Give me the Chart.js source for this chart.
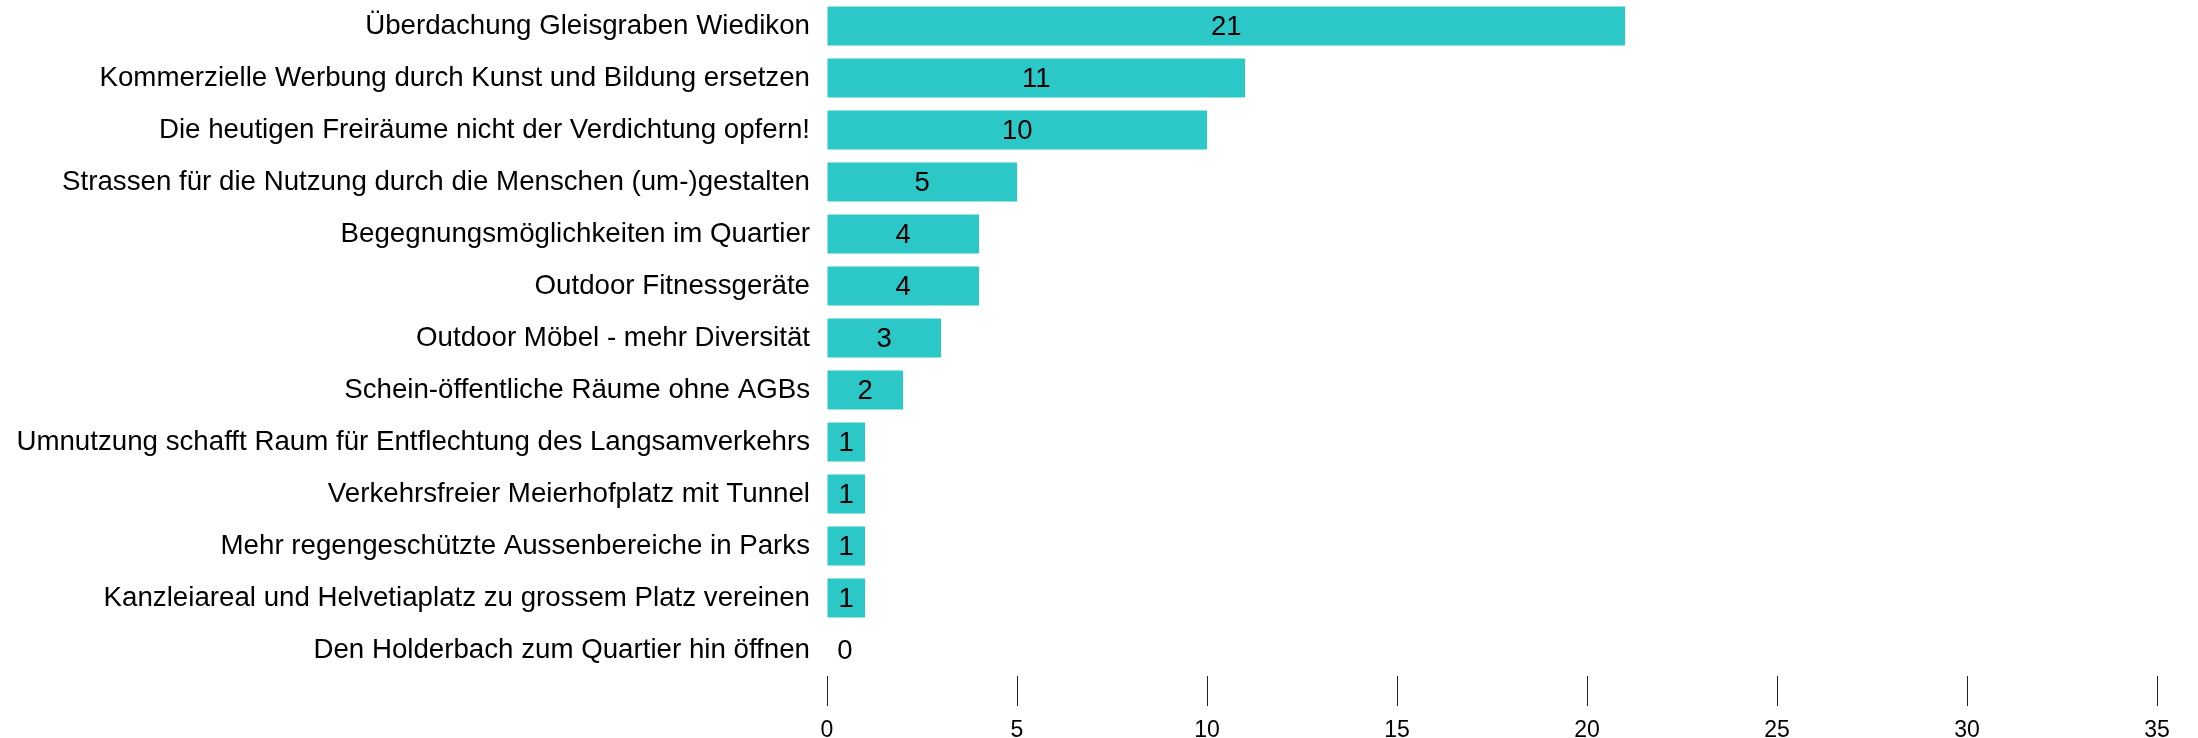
<!DOCTYPE html>
<html>
<head>
<meta charset="utf-8">
<script src="https://cdn.jsdelivr.net/npm/chart.js@4/dist/chart.umd.min.js"></script>
<style>
  html, body { margin: 0; padding: 0; background: #ffffff; }
  #wrap { width: 2198px; height: 738px; position: relative; }
</style>
</head>
<body>
<div id="wrap"><canvas id="chart"></canvas></div>
<script>
// Ideas and the number of votes each received
const categories = [
  "Überdachung Gleisgraben Wiedikon",
  "Kommerzielle Werbung durch Kunst und Bildung ersetzen",
  "Die heutigen Freiräume nicht der Verdichtung opfern!",
  "Strassen für die Nutzung durch die Menschen (um-)gestalten",
  "Begegnungsmöglichkeiten im Quartier",
  "Outdoor Fitnessgeräte",
  "Outdoor Möbel - mehr Diversität",
  "Schein-öffentliche Räume ohne AGBs",
  "Umnutzung schafft Raum für Entflechtung des Langsamverkehrs",
  "Verkehrsfreier Meierhofplatz mit Tunnel",
  "Mehr regengeschützte Aussenbereiche in Parks",
  "Kanzleiareal und Helvetiaplatz zu grossem Platz vereinen",
  "Den Holderbach zum Quartier hin öffnen"
];
const votes = [21, 11, 10, 5, 4, 4, 3, 2, 1, 1, 1, 1, 0];
const axisMin = 0;
const axisMax = 35;
const axisStep = 5;

const FONT = "'Liberation Sans', Arial, Helvetica, sans-serif";
const BAR_COLOR = "#2CC7C7";

// Writes each vote count inside its bar (or just right of the base for empty bars)
const valueLabels = {
  id: "valueLabels",
  afterDatasetsDraw(chart) {
    const ctx = chart.ctx;
    const meta = chart.getDatasetMeta(0);
    ctx.save();
    ctx.font = "27.5px " + FONT;
    ctx.fillStyle = "#000000";
    ctx.textAlign = "center";
    ctx.textBaseline = "middle";
    meta.data.forEach((bar, i) => {
      const x = Math.max((bar.x + bar.base) / 2, bar.base + 18);
      ctx.fillText(String(votes[i]), x, bar.y + 1);
    });
    ctx.restore();
  }
};

new Chart(document.getElementById("chart"), {
  type: "bar",
  data: {
    labels: categories,
    datasets: [{
      data: votes,
      backgroundColor: BAR_COLOR,
      borderWidth: 0,
      barPercentage: 0.75,
      categoryPercentage: 1.0
    }]
  },
  options: {
    indexAxis: "y",
    responsive: true,
    maintainAspectRatio: false,
    devicePixelRatio: 1,
    animation: false,
    layout: { padding: { top: 0, right: 41, bottom: 0, left: 0 } },
    plugins: {
      legend: { display: false },
      tooltip: { enabled: false }
    },
    scales: {
      y: {
        afterFit(scale) {
          scale.width = 827;
          // rows fill the full height; no extra room above the first label
          scale.paddingTop = 0;
          scale.paddingBottom = 0;
        },
        grid: { display: false, drawTicks: false },
        border: { display: false },
        ticks: {
          color: "#000000",
          padding: 17,
          autoSkip: false,
          font: { family: FONT, size: 27.7 }
        }
      },
      x: {
        min: axisMin,
        max: axisMax,
        afterFit(scale) { scale.height = 62; },
        grid: {
          drawOnChartArea: false,
          drawTicks: true,
          tickLength: 30,
          color: "#222222",
          lineWidth: 1
        },
        border: { display: false },
        ticks: {
          stepSize: axisStep,
          color: "#000000",
          padding: 11,
          font: { family: FONT, size: 23 }
        }
      }
    }
  },
  plugins: [valueLabels]
});
</script>
</body>
</html>
